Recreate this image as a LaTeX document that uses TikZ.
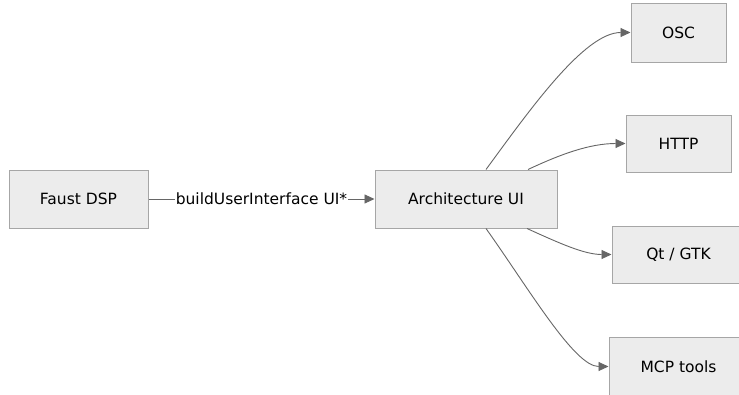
\documentclass[tikz,border=0pt]{standalone}
\usepackage{fontspec}
\setmainfont{DejaVu Sans}
\usetikzlibrary{arrows.meta}
\definecolor{boxfill}{HTML}{ECECEC}
\definecolor{boxline}{HTML}{A6A6A6}
\definecolor{edgeline}{HTML}{666666}
\tikzset{
  box/.style={draw=boxline, fill=boxfill, line width=1pt, minimum height=58pt,
    inner sep=0pt, font=\fontsize{15.5}{18}\selectfont},
  edge/.style={draw=edgeline, line width=0.9pt,
    -{Triangle[length=10pt,width=9pt,fill=edgeline]}},
}
\begin{document}
\begin{tikzpicture}[x=1pt, y=-1pt]
\useasboundingbox (0,0) rectangle (739,394);
\node[box, minimum width=139pt](dsp) at (78.5,199){Faust DSP};
\node[box, minimum width=182pt](arch) at (466,199){Architecture UI};
\node[box, minimum width=95pt, minimum height=59pt](osc) at (678.5,32.5){OSC};
\node[box, minimum width=105pt, minimum height=57pt](http) at (678.5,143.5){HTTP};
\node[box, minimum width=133pt, minimum height=57pt](qt) at (678.5,254.5){Qt / GTK};
\node[box, minimum width=139pt, minimum height=59pt](mcp) at (678.5,366.5){MCP tools};
\draw[edge] (dsp) -- node[fill=white, inner xsep=1pt, font=\fontsize{15.5}{18}\selectfont]{buildUserInterface UI*} (arch);
\draw[edge] ([xshift=20pt]arch.north) .. controls +(44,-60) and +(-46,0) .. (osc.west);
\draw[edge] ([xshift=62pt]arch.north) .. controls +(32,-15) and +(-36,0) .. (http.west);
\draw[edge] ([xshift=61pt]arch.south) .. controls +(33,15) and +(-27,0) .. (qt.west);
\draw[edge] ([xshift=20pt]arch.south) .. controls +(44,62) and +(-34,0) .. (mcp.west);
\end{tikzpicture}
\end{document}
